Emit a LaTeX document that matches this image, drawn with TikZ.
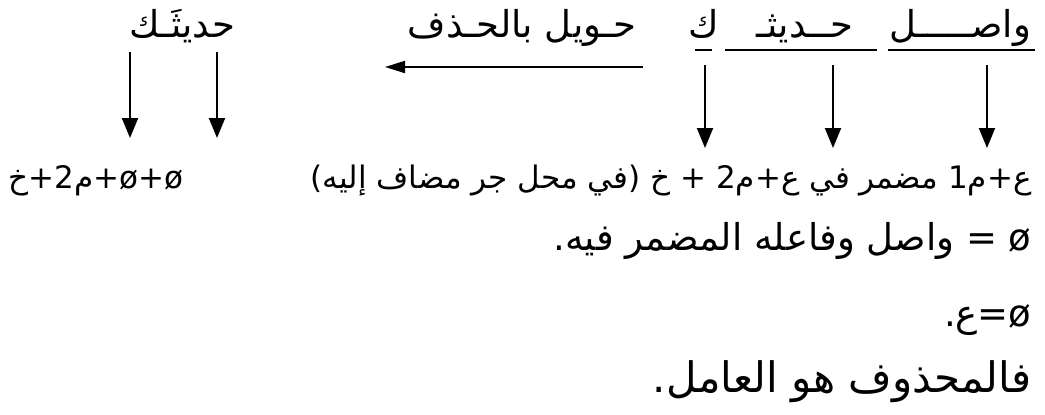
\documentclass[tikz,border=0pt]{standalone}
\usepackage{fontspec}
\usetikzlibrary{arrows.meta,positioning}
\newfontfamily\arabicfont[Script=Arabic]{DejaVu Sans}
\TeXXeTstate=1
\newcommand{\artxt}[1]{\arabicfont\beginR #1\endR}
\newcommand{\brk}{\kern0pt }
\tikzset{ln/.style={font=\arabicfont\fontsize{#1}{#1}\selectfont,inner sep=0pt},
  ln/.default=18.5,
  word/.style={ln,anchor=base},
  row/.style={ln=#1,anchor=base east},
  row/.default=18.5,
  arr/.style={line width=1pt,-{Triangle[length=10pt,width=8pt]}},
  harr/.style={line width=1pt,-{Triangle[length=10pt,width=6pt]}},
  ul/.style={line width=.8pt}}

\begin{document}
\begin{tikzpicture}[x=0.5pt,y=-0.5pt]
\useasboundingbox (0,0) rectangle (1045,414);
% top row
\node[word] (wasil) at (960,37) {\artxt{واصـــــل}};
\node[word] (hadith) at (805,37) {\artxt{حــديثـ}};
\node[word] (kaf) at (704,37) {\artxt{ك}};
\node[word] (tahwil) at (522,37) {\artxt{حـويل بالحـذف}};
\node[word] (hadithak) at (182,37) {\artxt{حديثَـك}};
\draw[ul] (888,50) -- (1035,50) (725,50) -- (877,50) (695,50) -- (712,50);
% lines
\node[row=15.5] (deep) at (1032,188) {\artxt{ع\brk+\brk م1 مضمر في ع\brk+\brk م2 + خ (في محل جر مضاف إليه)}};
\node[ln=15.5,anchor=base west] (deepb) at (8,188) {\artxt{ø\brk+\brk ø\brk+\brk م2\brk+\brk خ}};
\node[row] (zero) at (1032,250) {\artxt{ø = واصل وفاعله المضمر فيه.}};
\node[row] (zeroa) at (1032,326) {\artxt{ø\brk=\brk ع\brk.}};
\node[row=21] (res) at (1032,392) {\artxt{فالمحذوف هو العامل.}};
% arrows
\coordinate (t1) at (987,148);
\coordinate (t2) at (833,148);
\coordinate (t3) at (705,148);
\coordinate (t4) at (130,138);
\coordinate (t5) at (217,138);
\coordinate (hs) at (643,67);
\coordinate (he) at (385,67);
\draw[arr] (t1 |- 0,65) -- (t1);
\draw[arr] (t2 |- 0,65) -- (t2);
\draw[arr] (t3 |- 0,65) -- (t3);
\draw[arr] (t4 |- 0,52) -- (t4);
\draw[arr] (t5 |- 0,52) -- (t5);
\draw[harr] (hs) -- (he);
\end{tikzpicture}
\end{document}
